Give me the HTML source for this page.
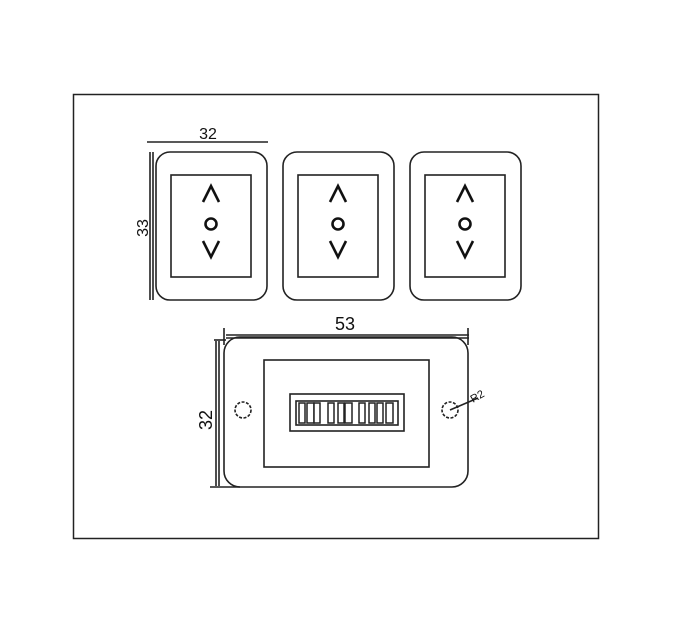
<!DOCTYPE html>
<html><head><style>body{margin:0;background:#fff}svg{display:block}</style></head><body>
<svg width="685" height="627" viewBox="0 0 685 627" xmlns="http://www.w3.org/2000/svg" font-family="Liberation Sans, sans-serif">
<rect x="73.5" y="94.5" width="525" height="444" fill="none" stroke="#222" stroke-width="1.5"/>
<g stroke="#222" fill="none" stroke-width="1.6">
<line x1="147" y1="142" x2="268" y2="142"/>
<line x1="150" y1="152" x2="150" y2="300"/>
<line x1="153" y1="152" x2="153" y2="300"/>
<rect x="156" y="152" width="111" height="148" rx="14"/>
<rect x="171" y="175" width="80" height="102"/>
<rect x="283" y="152" width="111" height="148" rx="14"/>
<rect x="298" y="175" width="80" height="102"/>
<rect x="410" y="152" width="111" height="148" rx="14"/>
<rect x="425" y="175" width="80" height="102"/>
</g>
<g stroke="#111" fill="none" stroke-width="2.6">
<path d="M203 202 L211 186 L219 202"/><circle cx="211" cy="224" r="5.5"/><path d="M203 241 L211 257 L219 241"/>
<path d="M330 202 L338 186 L346 202"/><circle cx="338" cy="224" r="5.5"/><path d="M330 241 L338 257 L346 241"/>
<path d="M457 202 L465 186 L473 202"/><circle cx="465" cy="224" r="5.5"/><path d="M457 241 L465 257 L473 241"/>
</g>
<text x="208" y="139" font-size="16" text-anchor="middle" fill="#111">32</text>
<text transform="translate(148,228) rotate(-90)" font-size="16" text-anchor="middle" fill="#111">33</text>
<g stroke="#222" fill="none" stroke-width="1.6">
<line x1="226" y1="335" x2="469" y2="335"/>
<line x1="226" y1="338" x2="469" y2="338"/>
<line x1="224" y1="328" x2="224" y2="345"/>
<line x1="468" y1="328" x2="468" y2="345"/>
<line x1="214" y1="340" x2="226" y2="340"/>
<line x1="216" y1="341" x2="216" y2="486"/>
<line x1="219" y1="341" x2="219" y2="486"/>
<line x1="210" y1="487" x2="240" y2="487"/>
<rect x="224" y="337" width="244" height="150" rx="16"/>
<rect x="264" y="360" width="165" height="107"/>
<rect x="290" y="394" width="114" height="37"/>
<rect x="296" y="401" width="102" height="24"/>
<circle cx="243" cy="410" r="8" stroke-dasharray="3 1.5"/>
<circle cx="450" cy="410" r="8" stroke-dasharray="3 1.5"/>
<line x1="450" y1="410" x2="478" y2="398"/>
</g>
<g fill="#fff" stroke="#222" stroke-width="1.5">
<rect x="299" y="403" width="6" height="20"/><rect x="307" y="403" width="7" height="20"/><rect x="314" y="403" width="6" height="20"/>
<rect x="328" y="403" width="6" height="20"/><rect x="338" y="403" width="6" height="20"/><rect x="345" y="403" width="7" height="20"/>
<rect x="359" y="403" width="6" height="20"/><rect x="369" y="403" width="6" height="20"/><rect x="377" y="403" width="6" height="20"/><rect x="386" y="403" width="7" height="20"/>
</g>
<text x="345" y="330" font-size="18" text-anchor="middle" fill="#111">53</text>
<text transform="translate(212,420) rotate(-90)" font-size="18" text-anchor="middle" fill="#111">32</text>
<text transform="translate(473,403) rotate(-30)" font-size="11" fill="#111">R2</text>
</svg>
</body></html>
